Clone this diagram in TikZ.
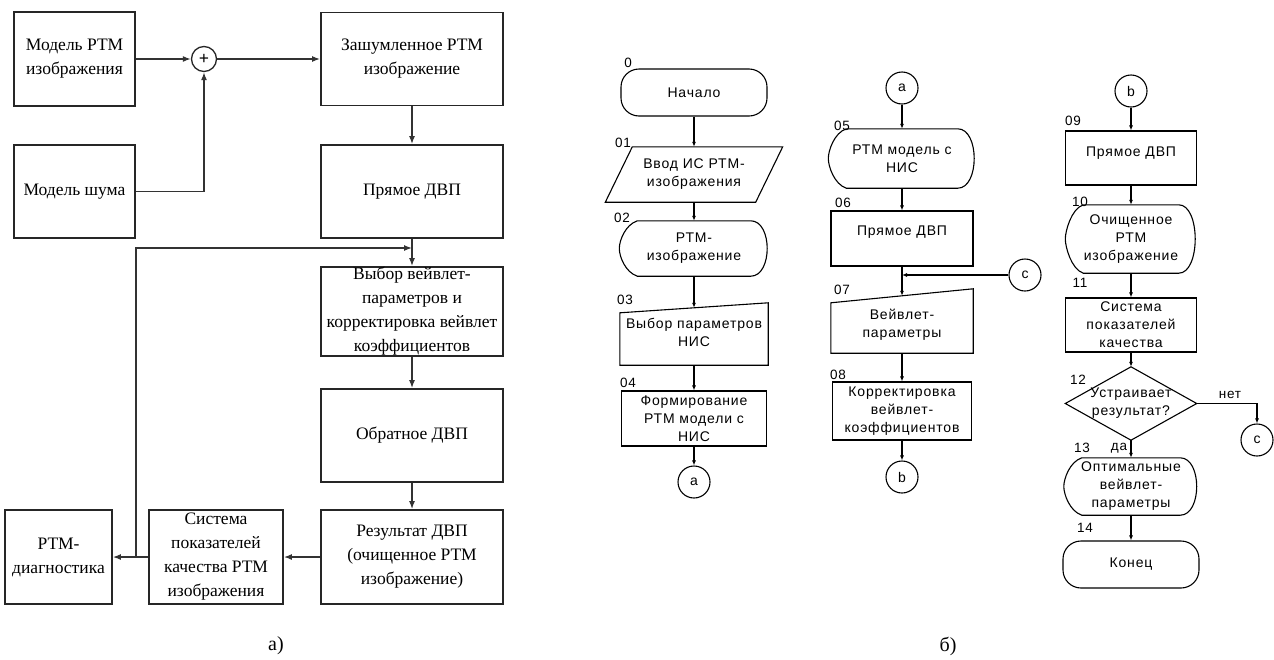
\documentclass[tikz,border=0pt]{standalone}
\usepackage{fontspec}
\setmainfont{Liberation Serif}
\newfontfamily\fcfont[LetterSpace=6]{Liberation Sans}
\usetikzlibrary{arrows.meta,calc}
\newcommand\dispshape[1]{%
  \draw[fcline] ($(#1.north west)+(18,0)$) -- ($(#1.north east)+(-18,0)$)
    .. controls ($(#1.north east)+(4,0)$) and ($(#1.south east)+(4,0)$) .. ($(#1.south east)+(-18,0)$)
    -- ($(#1.south west)+(18,0)$)
    .. controls ($(#1.south west)+(6,-4)$) and ($(#1.west)+(0,8)$) .. (#1.west)
    .. controls ($(#1.west)+(0,-8)$) and ($(#1.north west)+(6,4)$) .. ($(#1.north west)+(18,0)$) -- cycle;}
\begin{document}
\begin{tikzpicture}[x=1pt,y=-1pt,
  lbox/.style={draw=black!85, line width=1.8pt, inner sep=0pt, align=center, font=\fontsize{17.5}{24}\selectfont},
  sumc/.style={draw=black!85, circle, line width=1.3pt, minimum size=25pt, inner sep=0pt, font=\bfseries\fontsize{18}{18}\selectfont},
  fcbase/.style={inner sep=0pt, align=center, font=\fcfont\fontsize{14}{18}\selectfont},
  fcbox/.style={fcbase, draw, line width=1.1pt},
  fcshape/.style={fcbase},
  fcline/.style={line width=1.1pt},
  conn/.style={fcbase, draw, line width=1.1pt, circle, minimum size=32pt},
  num/.style={inner sep=0pt, font=\fcfont\fontsize{13.5}{13.5}\selectfont},
  arrL/.style={-{Latex[length=8pt,width=6pt]}, line width=1.3pt, draw=black!80},
  arrS/.style={-{Latex[length=5pt,width=4pt]}, line width=1.1pt},
  figcap/.style={inner sep=0pt, font=\fontsize{20}{20}\selectfont}
]
\useasboundingbox (0,0) rectangle (1274,659);

% ---------- part a) ----------
\node[lbox, minimum width=121pt, minimum height=94pt] (m1) at (74.5,59) {Модель РТМ\\изображения};
\node[sumc] (sum) at (204,59) {+};
\node[lbox, minimum width=121pt, minimum height=93pt] (m2) at (74.5,191.5) {Модель шума};
\node[lbox, minimum width=182pt, minimum height=93pt] (z) at (412,59) {Зашумленное РТМ\\изображение};
\node[lbox, minimum width=182pt, minimum height=93pt] (p) at (412,191.5) {Прямое ДВП};
\node[lbox, minimum width=182pt, minimum height=89pt] (v) at (412,311.5) {Выбор вейвлет-\\параметров и\\корректировка вейвлет\\коэффициентов};
\node[lbox, minimum width=182pt, minimum height=93pt] (o) at (412,435.5) {Обратное ДВП};
\node[lbox, minimum width=182pt, minimum height=94pt] (r) at (412,557) {Результат ДВП\\(очищенное РТМ\\изображение)};
\node[lbox, minimum width=134pt, minimum height=94pt] (s) at (216,557) {Система\\показателей\\качества РТМ\\изображения};
\node[lbox, minimum width=107pt, minimum height=94pt] (d) at (58.5,557) {РТМ-\\диагностика};
\coordinate (fbj) at (136,557);
\coordinate (fbt) at (412,248);

\draw[arrL] (m1) -- (sum);
\draw[arrL] (m2.east) -| (sum.south);
\draw[arrL] (sum) -- (z);
\draw[arrL] (z) -- (p);
\draw[arrL] (p) -- (v);
\draw[arrL] (v) -- (o);
\draw[arrL] (o) -- (r);
\draw[arrL] (r) -- (s);
\draw[arrL] (s) -- (d);
\draw[arrL] (fbj) |- (fbt);

\node[figcap] (capa) at (276,646) {а)};

% ---------- part b) column 1 ----------
\node[fcbox, rounded corners=18pt, minimum width=146pt, minimum height=47pt] (n0) at (694,92.5) {Начало};
\node[fcshape, minimum width=150pt, minimum height=55pt] (n1) at (694,174.5) {Ввод ИС РТМ-\\изображения};
\draw[fcline] ($(n1.north west)+(13.5,0)$) -- ($(n1.north east)+(13.5,0)$) -- ($(n1.south east)+(-13.5,0)$) -- ($(n1.south west)+(-13.5,0)$) -- cycle;
\node[fcshape, minimum width=149pt, minimum height=55pt] (n2) at (694,248.5) {РТМ-\\изображение};
\dispshape{n2}
\node[fcshape, minimum width=148pt, minimum height=57pt, text depth=0pt, text height=20pt] (n3) at (694,336.5) {Выбор параметров\\НИС};
\draw[fcline] (n3.south west) -- ($(n3.north west)+(0,5)$) -- ($(n3.north east)+(0,-5)$) -- (n3.south east) -- cycle;
\node[fcbox, minimum width=145pt, minimum height=55pt] (n4) at (694,418.5) {Формирование\\РТМ модели с\\НИС};
\node[conn] (ca1) at (694,482) {a};

\node[num] (l0) at (628,63) {0};
\node[num] (l1) at (623,143) {01};
\node[num] (l2) at (622,218) {02};
\node[num] (l3) at (625,300) {03};
\node[num] (l4) at (628,383) {04};

\draw[arrS] (n0) -- (n1);
\draw[arrS] (n1) -- (n2);
\draw[arrS] (n2) -- (n3);
\draw[arrS] (n3) -- (n4);
\draw[arrS] (n4) -- (ca1);

% ---------- column 2 ----------
\node[conn] (ca2) at (902,88) {a};
\node[fcshape, minimum width=147pt, minimum height=59pt] (n5) at (902,158.5) {РТМ модель с\\НИС};
\dispshape{n5}
\node[fcbox, minimum width=142pt, minimum height=55pt, text depth=16pt] (n6) at (902,238.5) {Прямое ДВП};
\node[conn] (c1) at (1025,275) {c};
\node[fcshape, minimum width=142pt, minimum height=57pt] (n7) at (902,324.5) {Вейвлет-\\параметры};
\draw[fcline] (n7.south west) -- ($(n7.north west)+(0,7)$) -- ($(n7.north east)+(0,-7)$) -- (n7.south east) -- cycle;
\node[fcbox, minimum width=139pt, minimum height=58pt] (n8) at (902,411) {Корректировка\\вейвлет-\\коэффициентов};
\node[conn] (cb1) at (902,477) {b};
\coordinate (j1) at (902,275);

\node[num] (l5) at (842,126) {05};
\node[num] (l6) at (843,203) {06};
\node[num] (l7) at (842,290) {07};
\node[num] (l8) at (838,375) {08};

\draw[arrS] (ca2) -- (n5);
\draw[arrS] (n5) -- (n6);
\draw[arrS] (n6) -- (n7);
\draw[arrS] (c1) -- (j1);
\draw[arrS] (n7) -- (n8);
\draw[arrS] (n8) -- (cb1);

% ---------- column 3 ----------
\node[conn] (cb2) at (1131,91) {b};
\node[fcbox, minimum width=131pt, minimum height=54pt, text depth=12pt] (n9) at (1131,158) {Прямое ДВП};
\node[fcshape, minimum width=131pt, minimum height=68pt] (n10) at (1131,239) {Очищенное\\РТМ\\изображение};
\dispshape{n10}
\node[fcbox, minimum width=131pt, minimum height=54pt] (n11) at (1131,325) {Система\\показателей\\качества};
\node[fcshape, minimum width=131pt, minimum height=73pt] (n12) at (1131,403.5) {Устраивает\\результат?};
\draw[fcline] (n12.north) -- (n12.east) -- (n12.south) -- (n12.west) -- cycle;
\node[conn] (c2) at (1257,440) {c};
\node[fcshape, minimum width=134pt, minimum height=57pt] (n13) at (1131,486.5) {Оптимальные\\вейвлет-\\параметры};
\dispshape{n13}
\node[fcbox, rounded corners=18pt, minimum width=136pt, minimum height=47pt] (n14) at (1131,564.5) {Конец};

\node[num] (l9) at (1073,121) {09};
\node[num] (l10) at (1080,202) {10};
\node[num] (l11) at (1080,283) {11};
\node[num] (l12) at (1078,380) {12};
\node[num] (l13) at (1082,448) {13};
\node[num] (l14) at (1085,528) {14};
\node[num] (lno) at (1230,395) {нет};
\node[num] (lyes) at (1119,448) {да};

\draw[arrS] (cb2) -- (n9);
\draw[arrS] (n9) -- (n10);
\draw[arrS] (n10) -- (n11);
\draw[arrS] (n11) -- (n12.north);
\draw[arrS] (n12.east) -| (c2.north);
\draw[arrS] (n12.south) -- (n13);
\draw[arrS] (n13) -- (n14);

\node[figcap] (capb) at (948,646) {б)};
\end{tikzpicture}
\end{document}
